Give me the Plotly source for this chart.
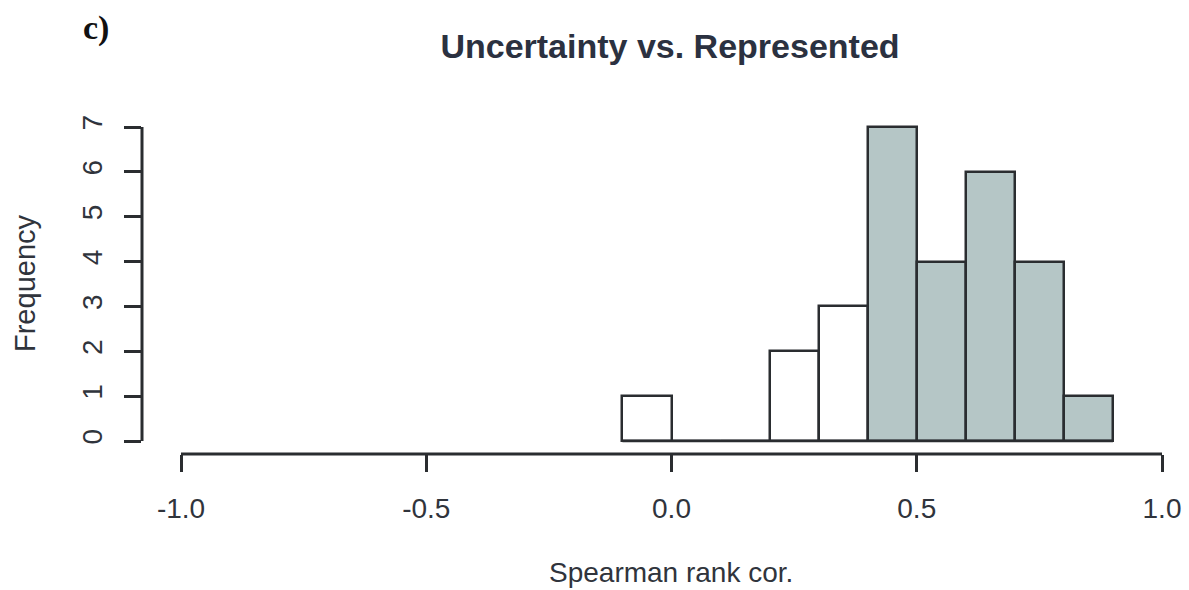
import plotly.graph_objects as go

# Histogram of Spearman rank correlations (bin width 0.1)
bin_edges = [-0.1, 0.0, 0.1, 0.2, 0.3, 0.4, 0.5, 0.6, 0.7, 0.8, 0.9]
counts = [1, 0, 0, 2, 3, 7, 4, 6, 4, 1]
shade_from = 0.4  # bins at or above this correlation are shaded

x_ticks = [-1.0, -0.5, 0.0, 0.5, 1.0]
x_tick_text = ["-1.0", "-0.5", "0.0", "0.5", "1.0"]
y_ticks = [0, 1, 2, 3, 4, 5, 6, 7]

title_text = "Uncertainty vs. Represented"
x_title = "Spearman rank cor."
y_title = "Frequency"
panel_label = "c)"

W, H = 1189, 590
L, R, T, B = 142, 9, 100, 136

centers = [(a + b) / 2 for a, b in zip(bin_edges[:-1], bin_edges[1:])]
widths = [b - a for a, b in zip(bin_edges[:-1], bin_edges[1:])]
fills = ["#b5c6c6" if a >= shade_from - 1e-9 else "white" for a in bin_edges[:-1]]

line_col = "#2a2d30"
text_col = "#30343c"

fig = go.Figure()

# shared baseline under all bins (zero-count bins show as a flat line)
fig.add_trace(go.Scatter(
    x=[bin_edges[0], bin_edges[-1]], y=[0, 0], mode="lines",
    line=dict(color=line_col, width=2.5), hoverinfo="skip", showlegend=False,
))

fig.add_trace(go.Bar(
    x=centers, y=counts, width=widths,
    marker=dict(color=fills, line=dict(color=line_col, width=2.5)),
    showlegend=False,
))

# px -> data scales
x_px_per_unit = (1162 - 181) / (x_ticks[-1] - x_ticks[0])
y_px_per_unit = (441 - 127) / (y_ticks[-1] - y_ticks[0])
x_lo = x_ticks[0] - (181 - L) / x_px_per_unit
x_hi = x_ticks[-1] + (W - R - 1162) / x_px_per_unit
y_lo = y_ticks[0] - ((H - B) - 441) / y_px_per_unit
y_hi = y_ticks[-1] + (127 - T) / y_px_per_unit

tick_font = dict(family="Liberation Sans, Arial, sans-serif", size=28, color=text_col)

fig.update_xaxes(
    range=[x_lo, x_hi], tickvals=x_ticks, ticktext=x_tick_text,
    ticks="outside", ticklen=17, tickwidth=2.5, tickcolor=line_col,
    showline=False, showgrid=False, zeroline=False, tickfont=tick_font,
    ticklabelstandoff=12,
)
fig.update_yaxes(
    range=[y_lo, y_hi], tickvals=y_ticks,
    ticks="outside", ticklen=17, tickwidth=2.5, tickcolor=line_col,
    showline=False, showgrid=False, zeroline=False, tickfont=tick_font,
    tickangle=-90, ticklabelstandoff=11,
)

# axis spines spanning only the first to last tick
fig.add_shape(type="line", xref="x", yref="paper",
              x0=x_ticks[0], x1=x_ticks[-1], y0=0, y1=0,
              line=dict(color=line_col, width=3))
fig.add_shape(type="line", xref="paper", yref="y",
              x0=0, x1=0, y0=y_ticks[0], y1=y_ticks[-1],
              line=dict(color=line_col, width=3))

fig.update_layout(
    width=W, height=H,
    margin=dict(l=L, r=R, t=T, b=B),
    paper_bgcolor="white", plot_bgcolor="white",
    bargap=0,
    title=dict(
        text=f"<b>{title_text}</b>", x=670 / W, xanchor="center",
        y=1 - 46 / H, yanchor="middle", yref="container",
        font=dict(family="Liberation Sans, Arial, sans-serif", size=34, color="#2b3140"),
    ),
    annotations=[
        dict(text=x_title, xref="paper", yref="paper",
             x=(671 - L) / (W - L - R), y=-(572 - (H - B)) / (H - T - B),
             xanchor="center", yanchor="middle", showarrow=False,
             font=dict(family="Liberation Sans, Arial, sans-serif", size=28, color=text_col)),
        dict(text=y_title, xref="paper", yref="paper", textangle=-90,
             x=-(L - 25) / (W - L - R), y=1 - (283 - T) / (H - T - B),
             xanchor="center", yanchor="middle", showarrow=False,
             font=dict(family="Liberation Sans, Arial, sans-serif", size=29, color=text_col)),
        dict(text=f"<b>{panel_label}</b>", xref="paper", yref="paper",
             x=-(L - 96) / (W - L - R), y=1 + (T - 28) / (H - T - B),
             xanchor="center", yanchor="middle", showarrow=False,
             font=dict(family="Liberation Serif, Times New Roman, serif", size=34, color="#111111")),
    ],
)

fig.write_html("out.html")
